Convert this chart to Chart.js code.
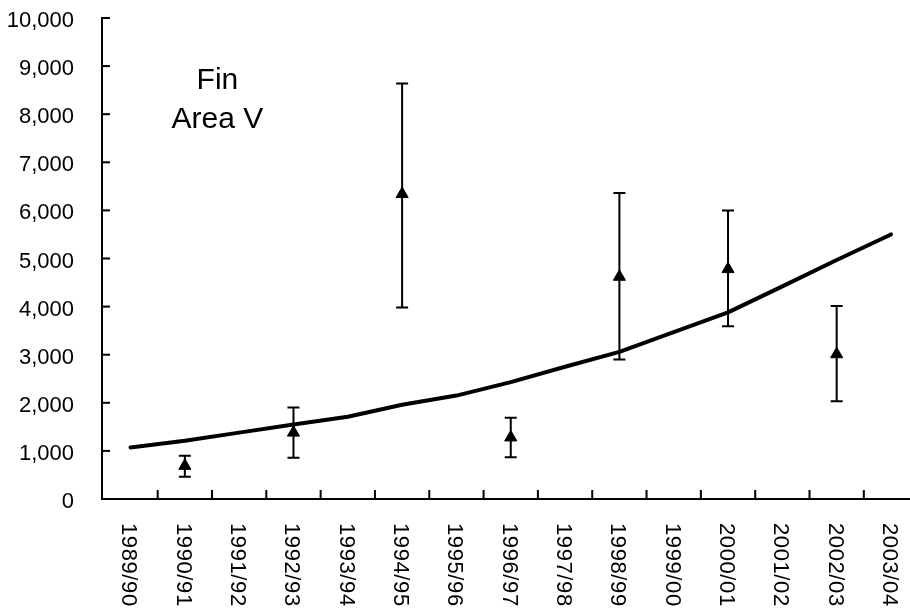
<!DOCTYPE html>
<html>
<head>
<meta charset="utf-8">
<script src="https://cdn.jsdelivr.net/npm/chart.js@4.4.1/dist/chart.umd.min.js"></script>
<style>
  body { margin: 0; background: #fff; }
  #wrap { width: 910px; height: 609px; }
</style>
</head>
<body>
<div id="wrap"><canvas id="myChart" width="910" height="609"></canvas></div>
<script>
const categories = ['1989/90', '1990/91', '1991/92', '1992/93', '1993/94', '1994/95', '1995/96',
  '1996/97', '1997/98', '1998/99', '1999/00', '2000/01', '2001/02', '2002/03', '2003/04'];

// fitted trend line, one value per season
const trend = [1070, 1210, 1380, 1550, 1710, 1960, 2150, 2430, 2750, 3060, 3470, 3880, 4420, 4970, 5500];

// survey estimates with error bars
const surveyIdx = [1, 3, 5, 7, 9, 11, 13];
const estimates = [690, 1380, 6340, 1280, 4620, 4780, 3010];
const lower = [460, 860, 3980, 870, 2900, 3590, 2030];
const upper = [900, 1900, 8640, 1690, 6360, 6000, 4010];

const yTicks = [0, 1000, 2000, 3000, 4000, 5000, 6000, 7000, 8000, 9000, 10000];

const fontFam = 'Arial, "Liberation Sans", sans-serif';

const trendPts = trend.map((v, i) => ({ x: i, y: v }));
const surveyPts = estimates.map((v, i) => ({ x: surveyIdx[i], y: v }));

const extras = {
  id: 'extras',
  afterDatasetsDraw(chart) {
    const ctx = chart.ctx;
    const xs = chart.scales.x;
    const ys = chart.scales.y;
    const area = chart.chartArea;
    ctx.save();
    ctx.strokeStyle = '#000';

    // error bars
    ctx.lineWidth = 2;
    surveyIdx.forEach((c, i) => {
      const px = xs.getPixelForValue(c);
      const top = ys.getPixelForValue(upper[i]);
      const bot = ys.getPixelForValue(lower[i]);
      ctx.beginPath();
      ctx.moveTo(px, top); ctx.lineTo(px, bot);
      ctx.moveTo(px - 6, top); ctx.lineTo(px + 6, top);
      ctx.moveTo(px - 6, bot); ctx.lineTo(px + 6, bot);
      ctx.stroke();
    });

    // inside tick marks
    yTicks.forEach(v => {
      const py = ys.getPixelForValue(v);
      ctx.beginPath();
      ctx.moveTo(area.left, py); ctx.lineTo(area.left + 8, py);
      ctx.stroke();
    });
    for (let i = 0; i < categories.length - 1; i++) {
      const px = xs.getPixelForValue(i + 0.5);
      ctx.beginPath();
      ctx.moveTo(px, area.bottom); ctx.lineTo(px, area.bottom - 9);
      ctx.stroke();
    }

    // category labels, rotated clockwise
    ctx.fillStyle = '#000';
    ctx.font = '22px ' + fontFam;
    ctx.letterSpacing = '0.6px';
    ctx.textAlign = 'left';
    ctx.textBaseline = 'middle';
    categories.forEach((lab, i) => {
      const px = xs.getPixelForValue(i);
      ctx.save();
      ctx.translate(px - 2, area.bottom + 24);
      ctx.rotate(Math.PI / 2);
      ctx.fillText(lab, 0, 0);
      ctx.restore();
    });
    ctx.letterSpacing = '0px';

    // panel title
    ctx.font = '30px ' + fontFam;
    ctx.textAlign = 'center';
    ctx.fillText('Fin', xs.getPixelForValue(1.6), ys.getPixelForValue(8700));
    ctx.fillText('Area V', xs.getPixelForValue(1.6), ys.getPixelForValue(7880));
    ctx.restore();
  }
};

const ctx = document.getElementById('myChart');

new Chart(ctx, {
  type: 'scatter',
  data: {
    datasets: [{
      type: 'line',
      label: 'Trend',
      data: trendPts,
      borderColor: '#000',
      borderWidth: 4,
      pointRadius: 0,
      tension: 0,
      borderCapStyle: 'round',
      borderJoinStyle: 'round',
      clip: false
    }, {
      label: 'Estimate',
      data: surveyPts,
      pointStyle: 'triangle',
      pointRadius: 7,
      backgroundColor: '#000',
      borderColor: '#000',
      borderWidth: 1
    }]
  },
  options: {
    responsive: false,
    animation: false,
    devicePixelRatio: 1,
    layout: { autoPadding: false, padding: { top: 18, right: 0, left: 0, bottom: 0 } },
    plugins: {
      legend: { display: false },
      tooltip: { enabled: false }
    },
    scales: {
      x: {
        type: 'linear',
        min: -0.525,
        max: 14.35,
        grid: { display: false, drawTicks: false },
        border: { display: true, color: '#000', width: 2 },
        ticks: { display: false },
        afterFit: (scale) => {
          scale.height = 110;
          scale.paddingLeft = 0; scale.paddingRight = 0;
        }
      },
      y: {
        min: 0,
        max: 10000,
        grid: { display: false, drawTicks: false },
        border: { display: true, color: '#000', width: 2 },
        afterBuildTicks: (scale) => { scale.ticks = yTicks.map(v => ({ value: v })); },
        ticks: {
          padding: 28,
          labelOffset: 3,
          color: '#000',
          font: { family: fontFam, size: 22 },
          callback: (v) => v.toLocaleString('en-US')
        },
        afterFit: (scale) => {
          scale.width = 102;
          scale.paddingTop = 0; scale.paddingBottom = 0;
        }
      }
    }
  },
  plugins: [extras]
});
</script>
</body>
</html>
